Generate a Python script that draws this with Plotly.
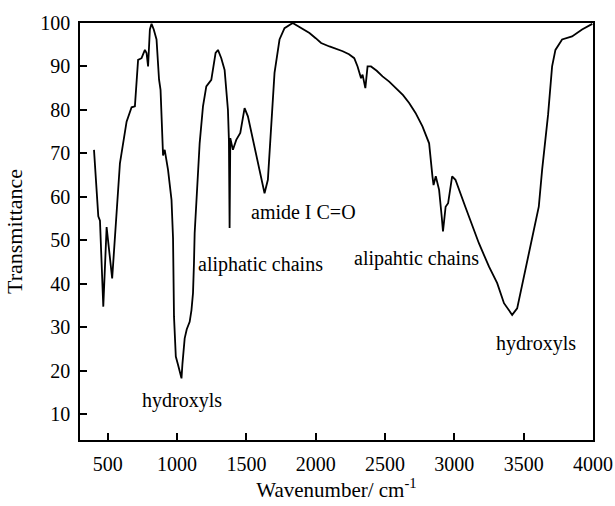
import plotly.graph_objects as go

wavenumber = [401, 432, 444, 468, 492, 532, 588, 636, 672, 696, 719, 744, 768, 780, 791,
              804, 816, 832, 852, 870, 881, 899, 911, 924, 935, 960, 971, 978, 991, 1007,
              1032, 1039, 1055, 1070, 1091, 1104, 1115, 1122, 1127, 1163, 1187, 1211, 1247,
              1278, 1295, 1319, 1343, 1367, 1374, 1379, 1384, 1403, 1427, 1456, 1487, 1511,
              1547, 1583, 1631, 1655, 1679, 1703, 1739, 1775, 1834, 1883, 1920, 1955, 2000,
              2039, 2099, 2150, 2195, 2240, 2278, 2302, 2327, 2338, 2358, 2374, 2399, 2440,
              2482, 2530, 2578, 2630, 2674, 2720, 2770, 2800, 2818, 2842, 2850, 2866, 2890,
              2909, 2918, 2937, 2955, 2984, 3008, 3079, 3177, 3250, 3309, 3358, 3417, 3453,
              3514, 3561, 3609, 3633, 3657, 3676, 3705, 3729, 3777, 3849, 3921, 3995]
transmittance = [70.8, 55.5, 54.5, 34.7, 53.0, 41.2, 67.7, 77.3, 80.6, 80.8, 91.5, 91.9, 93.8, 93.1, 90.0,
                 98.5, 99.8, 98.5, 96.2, 87.0, 84.6, 69.5, 70.8, 68.3, 66.2, 59.3, 50.5, 32.4, 23.2, 21.3,
                 18.2, 21.6, 27.4, 29.5, 31.2, 33.9, 37.8, 44.7, 51.6, 72.3, 80.8, 85.4, 86.9,
                 93.1, 93.8, 91.9, 89.2, 80.0, 73.1, 52.8, 73.5, 70.8, 73.1, 74.7, 80.4, 78.5,
                 73.1, 68.5, 60.8, 63.9, 77.7, 88.5, 96.2, 98.8, 100.0, 99.0, 98.4, 97.7, 96.5,
                 95.4, 94.6, 94.1, 93.5, 92.8, 91.9, 90.0, 87.3, 88.1, 85.0, 90.0, 90.0, 89.0,
                 87.7, 86.5, 85.0, 83.4, 81.6, 79.3, 76.2, 74.0, 72.3, 64.7, 62.7, 64.7, 61.6,
                 55.4, 52.0, 57.7, 58.5, 64.7, 63.9, 57.7, 49.3, 43.9, 40.1, 35.5, 32.8, 34.3,
                 43.2, 50.8, 57.7, 66.2, 73.1, 78.9, 90.0, 93.8, 96.2, 96.9, 98.5, 99.8]

label_text = ["hydroxyls", "aliphatic chains", "amide I C=O", "alipahtic chains", "hydroxyls"]
label_x = [1034, 1605, 1912, 2724, 3588]
label_y = [13.2, 44.5, 56.5, 45.9, 26.3]

x_ticks = [500, 1000, 1500, 2000, 2500, 3000, 3500, 4000]
y_ticks = [10, 20, 30, 40, 50, 60, 70, 80, 90, 100]

SERIF = "'Liberation Serif', 'Times New Roman', Times, serif"

fig = go.Figure()
fig.add_trace(go.Scatter(x=wavenumber, y=transmittance, mode="lines",
                         line=dict(color="black", width=1.8), showlegend=False))

for t, lx, ly in zip(label_text, label_x, label_y):
    fig.add_annotation(x=lx, y=ly, xref="x", yref="y", text=t, showarrow=False,
                       font=dict(size=20, color="black", family=SERIF))

fig.update_layout(
    width=615, height=506,
    margin=dict(l=80, r=22, t=23, b=66),
    paper_bgcolor="white", plot_bgcolor="white",
    font=dict(family=SERIF, color="black", size=20),
)
fig.update_xaxes(range=[300, 4000], tickvals=x_ticks, ticks="inside", ticklen=7, tickwidth=1.5,
                 tickcolor="black", showline=True, linecolor="black", linewidth=1.5, mirror=True,
                 showgrid=False, zeroline=False, ticklabelstandoff=5, automargin=False,
                 tickfont=dict(family=SERIF, size=20),
                 title=dict(text="Wavenumber/ cm<sup>-1</sup>", font=dict(family=SERIF, size=21), standoff=7))
fig.update_yaxes(range=[4, 100], tickvals=y_ticks, ticks="inside", ticklen=7, tickwidth=1.5,
                 tickcolor="black", showline=True, linecolor="black", linewidth=1.5, mirror=True,
                 showgrid=False, zeroline=False, ticklabelstandoff=4, automargin=False,
                 tickfont=dict(family=SERIF, size=20),
                 title=dict(text="Transmittance", font=dict(family=SERIF, size=22), standoff=12))

fig.write_html("out.html", config={"displayModeBar": False},
               post_script="document.body.style.margin='0';document.body.style.padding='0';")
